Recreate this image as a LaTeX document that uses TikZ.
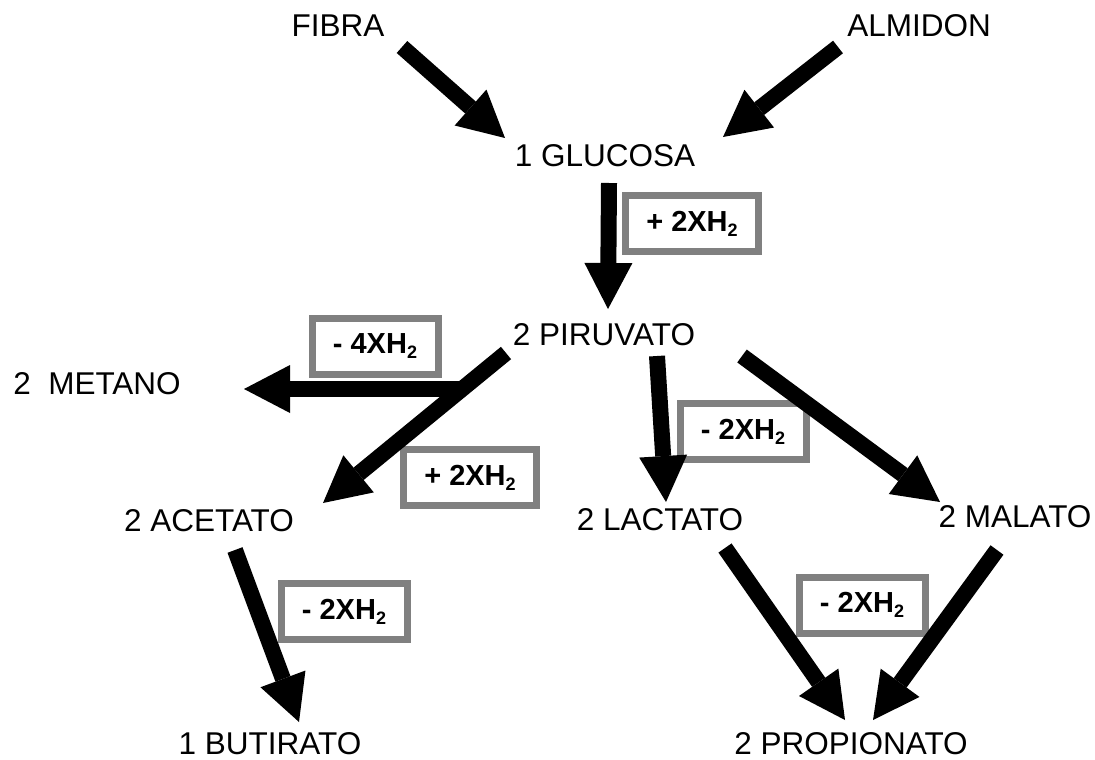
\documentclass[tikz,border=0pt]{standalone}
\usepackage{fontspec}
\setmainfont{Liberation Sans}
\usepackage{tikz}
\usetikzlibrary{arrows.meta, positioning, calc}

\definecolor{grisCaja}{RGB}{128,128,128}
\newcommand{\subind}[1]{\raisebox{-5pt}{\fontsize{18}{18}\selectfont #1}}

\tikzset{
  rotulo/.style={inner sep=0pt, font=\fontsize{31.5}{36}\selectfont},
  caja/.style={draw=grisCaja, line width=7pt, fill=white, inner sep=0pt,
    minimum width=126pt, minimum height=56pt, font=\bfseries\fontsize{29}{33}\selectfont},
  cajaancha/.style={caja, minimum width=133pt},
  flecha/.style={line width=16pt, -{Triangle[width=48pt,length=46pt,line width=0pt]}}
}

\begin{document}
\begin{tikzpicture}[x=1pt,y=-1pt]
\useasboundingbox (0,0) rectangle (1095,760);

% Compuestos
\node[rotulo] (fibra) at (338,26) {FIBRA};
\node[rotulo] (almidon) at (919,26) {ALMIDON};
\node[rotulo] (glucosa) at (605,156) {1 GLUCOSA};
\node[rotulo] (piruvato) at (604,335) {2 PIRUVATO};
\node[rotulo] (metano) at (97,384) {2\ \ METANO};
\node[rotulo] (acetato) at (209,521) {2 ACETATO};
\node[rotulo] (lactato) at (660,520) {2 LACTATO};
\node[rotulo] (malato) at (1015,517) {2 MALATO};
\node[rotulo] (butirato) at (270,744) {1 BUTIRATO};
\node[rotulo] (propionato) at (851,744) {2 PROPIONATO};

% Hidrogenos
\node[cajaancha] (h1) at (692,223.5) {+ 2XH\subind{2}};
\node[caja] (h2) at (375,346.5) {- 4XH\subind{2}};
\node[cajaancha] (h3) at (470,477.5) {+ 2XH\subind{2}};
\node[caja] (h4) at (743,431.5) {- 2XH\subind{2}};
\node[caja] (h5) at (344,611.5) {- 2XH\subind{2}};
\node[caja] (h6) at (862,605) {- 2XH\subind{2}};

% Flechas
\draw[flecha] ($(fibra)+(64,21)$) -- ($(glucosa)+(-100,-18)$);
\draw[flecha] ($(almidon)+(-81,21)$) -- ($(glucosa)+(118,-19)$);
\draw[flecha] ($(glucosa)+(4,27)$) -- ($(piruvato)+(4,-26)$);
\coordinate (ramal) at ($(piruvato)+(-142,54)$);
\draw[flecha] (ramal) -- ($(metano)+(147,5)$);
\draw[flecha] ($(piruvato)+(-98,18)$) -- ($(acetato)+(114,-18)$);
\draw[flecha] ($(piruvato)+(53,21)$) -- ($(lactato)+(6,-18)$);
\draw[flecha] ($(piruvato)+(138,21)$) -- ($(malato)+(-75,-15)$);
\draw[flecha] ($(acetato)+(26,29)$) -- ($(butirato)+(29,-22)$);
\draw[flecha] ($(lactato)+(65,28)$) -- ($(propionato)+(-6,-24)$);
\draw[flecha] ($(malato)+(-18,33)$) -- ($(propionato)+(22,-24)$);
\end{tikzpicture}
\end{document}
